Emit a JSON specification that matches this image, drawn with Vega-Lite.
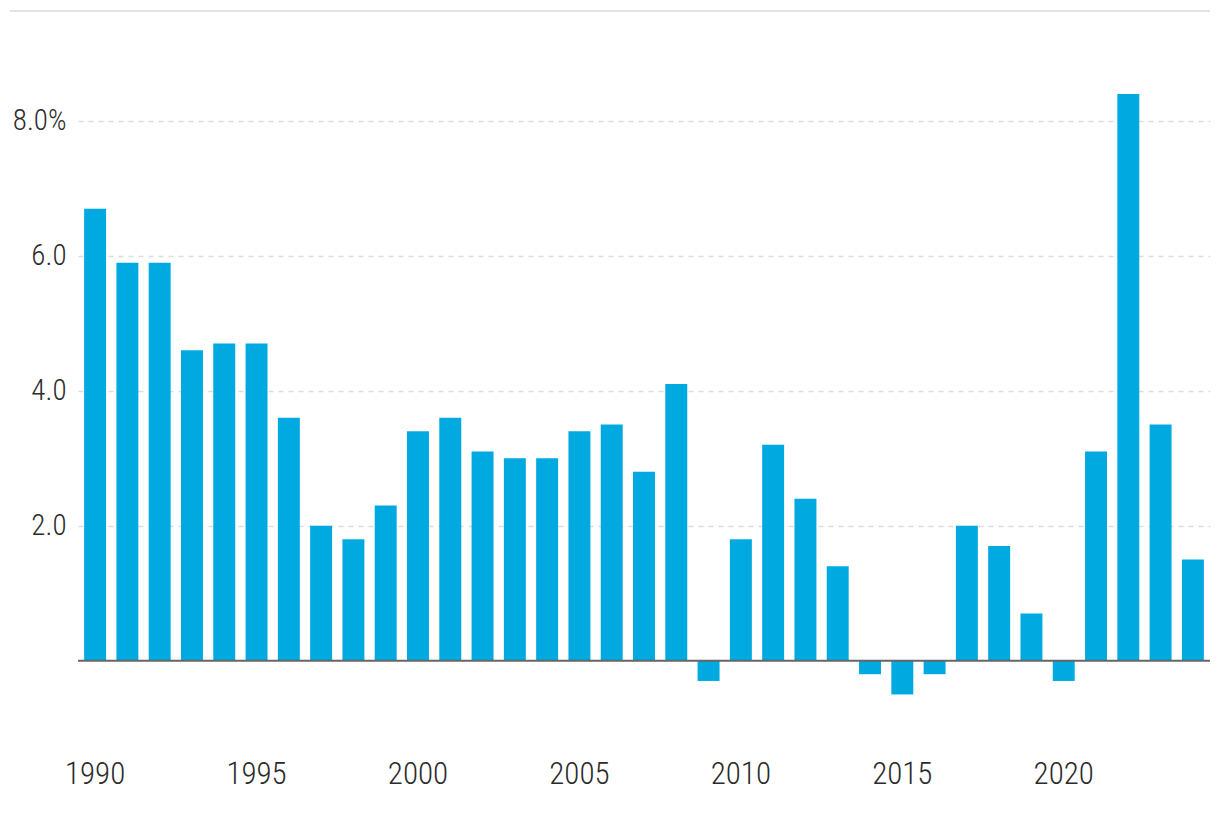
{
  "$schema": "https://vega.github.io/schema/vega-lite/v6.json",
  "autosize": {"type": "none"},
  "padding": {"left": 78, "top": 11, "right": 10, "bottom": 75},
  "width": 1132,
  "height": 730,
  "background": "#ffffff",
  "config": {
    "view": {"stroke": null},
    "font": "Roboto Condensed, Liberation Sans Narrow, DejaVu Sans Condensed, sans-serif"
  },
  "data": {
    "values": [
      {"year": 1990, "value": 6.7}, {"year": 1991, "value": 5.9}, {"year": 1992, "value": 5.9},
      {"year": 1993, "value": 4.6}, {"year": 1994, "value": 4.7}, {"year": 1995, "value": 4.7},
      {"year": 1996, "value": 3.6}, {"year": 1997, "value": 2.0}, {"year": 1998, "value": 1.8},
      {"year": 1999, "value": 2.3}, {"year": 2000, "value": 3.4}, {"year": 2001, "value": 3.6},
      {"year": 2002, "value": 3.1}, {"year": 2003, "value": 3.0}, {"year": 2004, "value": 3.0},
      {"year": 2005, "value": 3.4}, {"year": 2006, "value": 3.5}, {"year": 2007, "value": 2.8},
      {"year": 2008, "value": 4.1}, {"year": 2009, "value": -0.3}, {"year": 2010, "value": 1.8},
      {"year": 2011, "value": 3.2}, {"year": 2012, "value": 2.4}, {"year": 2013, "value": 1.4},
      {"year": 2014, "value": -0.2}, {"year": 2015, "value": -0.5}, {"year": 2016, "value": -0.2},
      {"year": 2017, "value": 2.0}, {"year": 2018, "value": 1.7}, {"year": 2019, "value": 0.7},
      {"year": 2020, "value": -0.3}, {"year": 2021, "value": 3.1}, {"year": 2022, "value": 8.4},
      {"year": 2023, "value": 3.5}, {"year": 2024, "value": 1.5}
    ]
  },
  "layer": [
    {
      "mark": {"type": "bar", "color": "#00A9E0"},
      "encoding": {
        "x": {
          "field": "year", "type": "ordinal",
          "scale": {"paddingInner": 0.32, "paddingOuter": 0.19},
          "axis": {
            "values": [1990, 1995, 2000, 2005, 2010, 2015, 2020],
            "title": null, "domain": false, "ticks": false,
            "labelAngle": 0, "labelFontSize": 31, "labelFontWeight": 300, "labelColor": "#2b2b2b",
            "labelPadding": 18
          }
        },
        "y": {
          "field": "value", "type": "quantitative",
          "scale": {"domain": [-1.19, 9.63], "nice": false, "zero": false},
          "axis": {
            "values": [2, 4, 6, 8],
            "labelExpr": "datum.value == 8 ? '8.0%' : format(datum.value, '.1f')",
            "title": null, "domain": false, "ticks": false,
            "labelFontSize": 29, "labelFontWeight": 300, "labelColor": "#2b2b2b", "labelPadding": 12,
            "grid": true, "gridColor": "#dddddd", "gridDash": [5, 5], "gridWidth": 1.5
          }
        }
      }
    },
    {
      "data": {"values": [{"v": 0}]},
      "mark": {"type": "rule", "color": "#666666", "strokeWidth": 2},
      "encoding": {"y": {"datum": 0, "type": "quantitative"}}
    },
    {
      "data": {"values": [{"v": 0}]},
      "mark": {"type": "rule", "color": "#e3e3e3", "strokeWidth": 2, "xOffset": -68, "x2Offset": 0},
      "encoding": {
        "x": {"value": 0},
        "x2": {"value": "width"},
        "y": {"datum": 9.63, "type": "quantitative"}
      }
    }
  ]
}
